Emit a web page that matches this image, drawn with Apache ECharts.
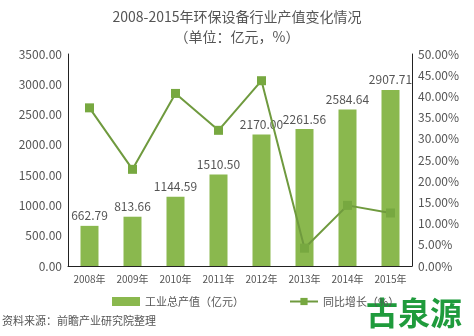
<!DOCTYPE html>
<html>
<head>
<meta charset="utf-8">
<script src="https://cdn.jsdelivr.net/npm/echarts@6/dist/echarts.min.js"></script>
<style>
  html, body { margin: 0; padding: 0; background: #fff; }
  #chart { width: 474px; height: 336px; }
</style>
</head>
<body>
<div id="chart"></div>
<script>
// Environmental equipment industry output, 2008-2015
const years = ['2008年', '2009年', '2010年', '2011年', '2012年', '2013年', '2014年', '2015年'];
const outputValue = [662.79, 813.66, 1144.59, 1510.50, 2170.00, 2261.56, 2584.64, 2907.71];
const growthRate = [37.3, 22.8, 40.7, 32.0, 43.7, 4.2, 14.3, 12.5];

const textColor = '#555';
const font = '"Noto Sans CJK SC", "Liberation Sans", sans-serif';

const chart = echarts.init(document.getElementById('chart'));
chart.setOption({
  animation: false,
  backgroundColor: '#fff',
  textStyle: { fontFamily: font },
  title: {
    text: '2008-2015年环保设备行业产值变化情况',
    subtext: '（单位：亿元，%）',
    left: 'center',
    top: 5,
    itemGap: 6,
    textStyle: { fontSize: 14, fontWeight: 'normal', color: textColor, fontFamily: font },
    subtextStyle: { fontSize: 14, color: textColor, fontFamily: font }
  },
  grid: { left: 68, right: 62, top: 54, bottom: 70 },
  legend: {
    bottom: 24,
    left: 107,
    itemWidth: 28,
    itemHeight: 9,
    itemGap: 45,
    textStyle: { fontSize: 11, color: textColor, fontFamily: font },
    data: [
      { name: '工业总产值（亿元）', icon: 'rect' },
      { name: '同比增长（%）' }
    ]
  },
  xAxis: {
    type: 'category',
    data: years,
    axisLine: { lineStyle: { color: '#222', width: 1 } },
    axisTick: { show: false },
    axisLabel: { fontSize: 10, color: textColor, margin: 8, interval: 0 }
  },
  yAxis: [
    {
      type: 'value',
      min: 0, max: 3500, interval: 500,
      axisLine: { show: true, lineStyle: { color: '#222' } },
      axisTick: { show: false },
      splitLine: { show: false },
      axisLabel: { fontSize: 12, color: textColor, margin: 6,
        formatter: v => v.toFixed(2) }
    },
    {
      type: 'value',
      min: 0, max: 50, interval: 5,
      axisLine: { show: true, lineStyle: { color: '#222' } },
      axisTick: { show: false },
      splitLine: { show: false },
      axisLabel: { fontSize: 12, color: textColor, margin: 6,
        formatter: v => v.toFixed(2) + '%' }
    }
  ],
  series: [
    {
      name: '工业总产值（亿元）',
      type: 'bar',
      data: outputValue,
      barWidth: 18,
      itemStyle: { color: '#8ab84e' },
      label: {
        show: true, position: 'top', distance: 4,
        fontSize: 12, color: textColor,
        formatter: p => p.value.toFixed(2)
      }
    },
    {
      name: '同比增长（%）',
      type: 'line',
      yAxisIndex: 1,
      data: growthRate,
      symbol: 'rect',
      symbolSize: 9,
      lineStyle: { color: '#6f9a3e', width: 2 },
      itemStyle: { color: '#77a840' },
      z: 5
    }
  ],
  graphic: [
    {
      type: 'text', left: 2, top: 315,
      style: { text: '资料来源：前瞻产业研究院整理', fontSize: 11, fill: textColor, fontFamily: font }
    },
    {
      type: 'text', left: 366, top: 297,
      style: { text: '古泉源', fontSize: 32, fontWeight: 'bold', fill: '#1f9b3c', fontFamily: font }
    }
  ]
});
</script>
</body>
</html>
